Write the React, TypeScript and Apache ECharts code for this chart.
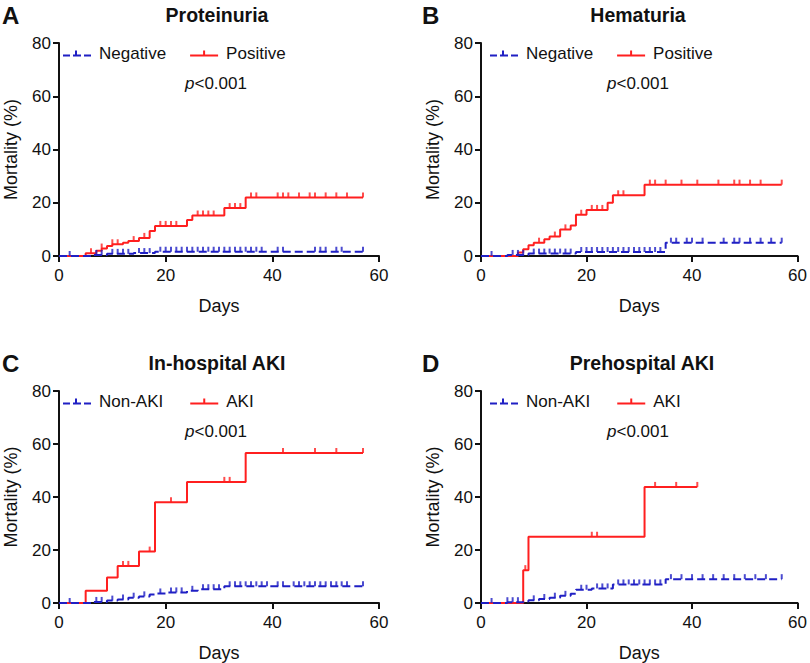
import React, { useEffect, useRef } from "react";
import * as echarts from "echarts";

// ---- Data (days, cumulative mortality %) ----
const aNegT = [0, 6, 9, 14, 18, 57];
const aNegV = [0, 0.4, 0.8, 1.1, 1.6, 1.6];
const aNegC = [2, 7, 8, 10, 11, 12, 13, 15, 16, 17, 19, 20, 21, 22, 23, 24, 25, 26, 27, 28, 29, 30, 31, 32, 33, 34, 35, 36, 37, 38, 41, 42, 48, 49, 50, 52, 53, 57];
const aPosT = [0, 5, 7, 8, 9, 10, 12, 13, 15, 17, 18, 24, 25, 31, 35, 57];
const aPosV = [0, 1, 2, 2.8, 3.8, 4.4, 5, 5.6, 6.8, 9.4, 11.3, 13.5, 15.2, 18, 22, 22];
const aPosC = [6, 8, 10, 11, 14, 16, 19, 20, 21, 22, 26, 27, 28, 29, 32, 33, 34, 36, 37, 41, 42, 43, 45, 47, 48, 50, 52, 54, 57];

const bNegT = [0, 5, 9, 18, 35, 57];
const bNegV = [0, 0.4, 0.9, 1.5, 5, 5];
const bNegC = [2, 6, 7, 8, 10, 11, 12, 13, 14, 15, 16, 17, 19, 20, 21, 22, 23, 24, 25, 26, 27, 28, 29, 30, 31, 32, 33, 34, 36, 37, 39, 40, 42, 46, 48, 49, 51, 53, 55, 57];
const bPosT = [0, 7, 8, 9, 10, 12, 13, 15, 17, 18, 20, 24, 25, 31, 57];
const bPosV = [0, 1.3, 2.5, 4, 5, 6.3, 7.3, 10, 11.5, 15.5, 17.3, 20, 22.8, 26.8, 26.8];
const bPosC = [11, 14, 16, 19, 21, 22, 23, 26, 27, 32, 33, 35, 38, 41, 45, 48, 49, 51, 53, 57];

const cNonT = [0, 6, 9, 11, 13, 15, 17, 18, 20, 24, 26, 31, 57];
const cNonV = [0, 0.4, 0.9, 1.3, 2, 2.5, 3.2, 3.6, 4, 4.6, 5.2, 6.3, 6.3];
const cNonC = [2, 7, 8, 10, 12, 14, 16, 19, 21, 22, 23, 25, 27, 28, 29, 30, 32, 33, 34, 35, 36, 37, 38, 39, 41, 42, 44, 45, 46, 47, 48, 49, 50, 51, 52, 53, 54, 57];
const cAkiT = [0, 5, 9, 11, 15, 18, 24, 35, 57];
const cAkiV = [0, 4.6, 9.6, 14, 19.4, 38, 45.7, 56.6, 56.6];
const cAkiC = [12, 13, 17, 21, 31, 32, 42, 48, 52, 57];

const dNonT = [0, 5, 8, 9, 11, 13, 15, 17, 18, 21, 25, 35, 57];
const dNonV = [0, 0.3, 0.6, 1, 1.5, 2, 2.7, 3.5, 5, 5.5, 7, 9, 9];
const dNonC = [2, 5, 6, 7, 10, 12, 14, 16, 19, 20, 22, 23, 24, 26, 27, 28, 29, 30, 31, 32, 33, 34, 36, 38, 40, 42, 44, 46, 48, 50, 52, 54, 57];
const dAkiT = [0, 8, 9, 31, 41];
const dAkiV = [0, 12.4, 25, 43.8, 43.8];
const dAkiC = [8.4, 21, 22, 33, 37, 41];

const xTicks = [0, 20, 40, 60];
const yTicks = [0, 20, 40, 60, 80];

const panelTitles = ["Proteinuria", "Hematuria", "In-hospital AKI", "Prehospital AKI"];
const panelLetters = ["A", "B", "C", "D"];
const groupNames = [
  ["Negative", "Positive"],
  ["Negative", "Positive"],
  ["Non-AKI", "AKI"],
  ["Non-AKI", "AKI"],
];

const BLUE = "#1f1fc4";
const RED = "#ff1f1f";
const FONT = "'Liberation Sans', Arial, Helvetica, sans-serif";

const stepAt = (t: number[], v: number[], x: number) => {
  let y = v[0];
  for (let i = 0; i < t.length; i++) if (t[i] <= x) y = v[i];
  return y;
};

const panels = [
  { neg: [aNegT, aNegV, aNegC], pos: [aPosT, aPosV, aPosC] },
  { neg: [bNegT, bNegV, bNegC], pos: [bPosT, bPosV, bPosC] },
  { neg: [cNonT, cNonV, cNonC], pos: [cAkiT, cAkiV, cAkiC] },
  { neg: [dNonT, dNonV, dNonC], pos: [dAkiT, dAkiV, dAkiC] },
];

const grids = [
  { left: 59, top: 43, width: 320, height: 213 },
  { left: 481, top: 43, width: 320, height: 213 },
  { left: 59, top: 391, width: 320, height: 213 },
  { left: 481, top: 391, width: 320, height: 213 },
];

const legendPos = [
  { left: 63, top: 45, gap: 24 },
  { left: 490, top: 45, gap: 24 },
  { left: 63, top: 393, gap: 27 },
  { left: 490, top: 393, gap: 27 },
];
const titleCx = [217, 638, 217, 642];
const titleY = [15, 15, 363, 363];
const letterX = [2, 422, 2, 422];

const BLUE_ICON = "path://M0,7h7v2h-7z M10,7h8v2h-8z M21,7h7v2h-7z M12,3h2v4h-2z";
const RED_ICON = "path://M0,7h28v2h-28z M13,3h2v4h-2z";

export default function App() {
  const ref = useRef<HTMLDivElement>(null);
  useEffect(() => {
    if (!ref.current) return;
    const chart = echarts.init(ref.current, null, { renderer: "svg" });
    const axisCommon = {
      axisLine: { lineStyle: { color: "#111", width: 2 } },
      axisTick: { length: 6, lineStyle: { color: "#111", width: 2 } },
      splitLine: { show: false },
      axisLabel: { color: "#111", fontSize: 17, fontFamily: FONT },
      nameTextStyle: { color: "#111", fontSize: 18, fontFamily: FONT },
    };
    const xAxis = grids.map((_, i) => ({
      ...axisCommon,
      type: "value",
      gridIndex: i,
      min: xTicks[0],
      max: xTicks[xTicks.length - 1],
      interval: xTicks[1] - xTicks[0],
      name: "Days",
      nameLocation: "middle",
      nameGap: 41,
      axisLabel: { ...axisCommon.axisLabel, margin: 11 },
    }));
    const yAxis = grids.map((_, i) => ({
      ...axisCommon,
      type: "value",
      gridIndex: i,
      min: yTicks[0],
      max: yTicks[yTicks.length - 1],
      interval: yTicks[1] - yTicks[0],
      name: "Mortality (%)",
      nameLocation: "middle",
      nameGap: 39,
      axisLabel: { ...axisCommon.axisLabel, margin: 8 },
    }));
    const series: any[] = [];
    panels.forEach((p, i) => {
      const [nT, nV, nC] = p.neg as number[][];
      const [pT, pV, pC] = p.pos as number[][];
      series.push({
        type: "line",
        name: groupNames[i][0],
        xAxisIndex: i,
        yAxisIndex: i,
        step: "end",
        symbol: "none",
        color: BLUE,
        lineStyle: { color: BLUE, width: 2, type: [8, 4] },
        data: nT.map((t, k) => [t, nV[k]]),
        z: 3,
      });
      series.push({
        type: "scatter",
        name: groupNames[i][0] + " censored",
        xAxisIndex: i,
        yAxisIndex: i,
        symbol: "rect",
        symbolSize: [2, 5],
        symbolOffset: [0, -2.5],
        itemStyle: { color: BLUE },
        data: nC.map((t) => [t, stepAt(nT, nV, t)]),
        z: 3,
      });
      series.push({
        type: "line",
        name: groupNames[i][1],
        xAxisIndex: i,
        yAxisIndex: i,
        step: "end",
        symbol: "none",
        color: RED,
        lineStyle: { color: RED, width: 2 },
        data: pT.map((t, k) => [t, pV[k]]),
        z: 2,
      });
      series.push({
        type: "scatter",
        name: groupNames[i][1] + " censored",
        xAxisIndex: i,
        yAxisIndex: i,
        symbol: "rect",
        symbolSize: [2, 5],
        symbolOffset: [0, -2.5],
        itemStyle: { color: RED },
        data: pC.map((t) => [t, stepAt(pT, pV, t)]),
        z: 2,
      });
    });
    const legend = legendPos.map((lp, i) => ({
      left: lp.left,
      top: lp.top,
      orient: "horizontal",
      itemWidth: 28,
      itemHeight: 8,
      itemGap: lp.gap,
      padding: 0,
      selectedMode: false,
      textStyle: { color: "#111", fontSize: 17, fontFamily: FONT, padding: [0, 0, 0, 3] },
      data: [
        { name: groupNames[i][0], icon: BLUE_ICON },
        { name: groupNames[i][1], icon: RED_ICON },
      ],
    }));
    const graphic: any[] = [];
    grids.forEach((g, i) => {
      graphic.push({
        type: "text",
        x: titleCx[i],
        y: titleY[i],
        style: {
          text: panelTitles[i],
          fontSize: 19.5,
          fontWeight: "bold",
          fontFamily: FONT,
          fill: "#111",
          align: "center",
          verticalAlign: "middle",
          textAlign: "center",
          textVerticalAlign: "middle",
        },
      });
      graphic.push({
        type: "text",
        x: letterX[i],
        y: titleY[i],
        style: {
          text: panelLetters[i],
          fontSize: 24,
          fontWeight: "bold",
          fontFamily: FONT,
          fill: "#111",
          align: "left",
          verticalAlign: "middle",
          textAlign: "left",
          textVerticalAlign: "middle",
        },
      });
      graphic.push({
        type: "text",
        x: g.left + 126,
        y: g.top + 40,
        style: {
          text: "{i|p}{n|<0.001}",
          rich: {
            i: { fontStyle: "italic", fontSize: 17, fontFamily: FONT, fill: "#111" },
            n: { fontSize: 17, fontFamily: FONT, fill: "#111" },
          },
          align: "left",
          verticalAlign: "middle",
          textAlign: "left",
          textVerticalAlign: "middle",
        },
      });
    });
    chart.setOption({
      animation: false,
      backgroundColor: "#fff",
      grid: grids.map((g) => ({ ...g, containLabel: false })),
      xAxis,
      yAxis,
      legend,
      series,
      graphic,
    });
    return () => chart.dispose();
  }, []);
  return (
    <div
      ref={ref}
      style={{ position: "fixed", left: 0, top: 0, width: 810, height: 663 }}
    />
  );
}
